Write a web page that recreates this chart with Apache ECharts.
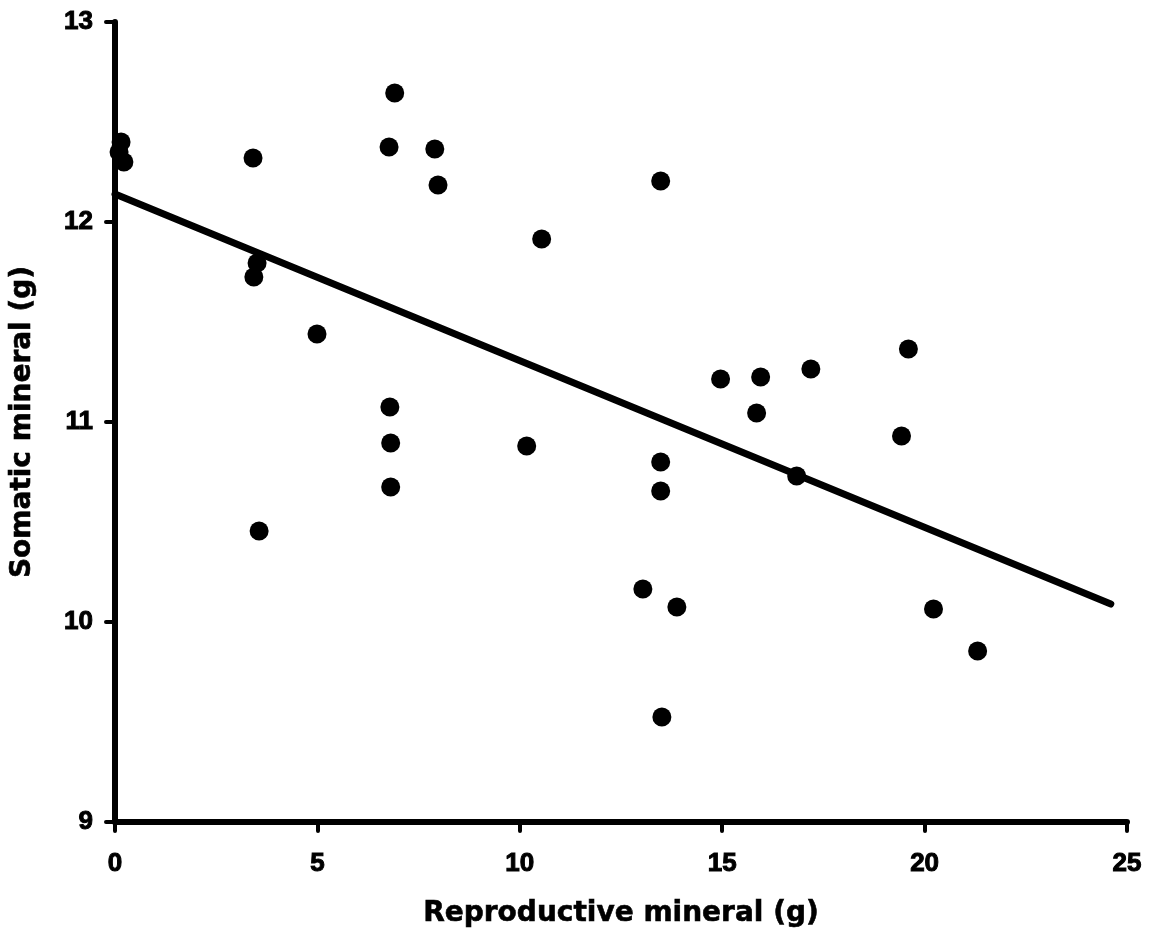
<!DOCTYPE html>
<html>
<head>
<meta charset="utf-8">
<title>Somatic vs reproductive mineral</title>
<script src="https://cdn.jsdelivr.net/npm/echarts@6/dist/echarts.min.js"></script>
<style>
  html, body { margin: 0; padding: 0; background: #fff; }
  #chart { width: 1155px; height: 947px; }
</style>
</head>
<body>
<div id="chart"></div>
<script>
// Reproductive mineral (g) per individual
const reproductive = [
  0.15, 0.22, 0.10,
  3.41, 3.51, 3.43, 3.56, 4.99,
  6.91, 6.77, 7.90, 7.98, 6.79, 6.81, 6.81,
  10.54, 10.17,
  13.48, 13.48, 13.48, 13.04, 13.88, 13.51,
  14.96, 15.95, 15.85, 16.84, 17.19,
  19.60, 19.43, 20.22, 21.31
];
// Somatic mineral (g) per individual
const somatic = [
  12.40, 12.30, 12.35,
  12.32, 11.795, 11.725, 10.455, 11.44,
  12.645, 12.375, 12.365, 12.185, 11.075, 10.895, 10.675,
  11.915, 10.88,
  12.205, 10.80, 10.655, 10.165, 10.075, 9.525,
  11.215, 11.225, 11.045, 10.73, 11.265,
  11.365, 10.93, 10.065, 9.855
];
// Least-squares fit line end points
const fitX = [0, 24.6];
const fitY = [12.14, 10.09];

// Axis ranges and tick spacing
const xRange = [0, 25, 5];
const yRange = [9, 13, 1];

const points = reproductive.map((x, i) => [x, somatic[i]]);
const fitLine = fitX.map((x, i) => [x, fitY[i]]);

const tickFont = '"Liberation Sans", Arial, sans-serif';
const titleFont = '"DejaVu Sans", "Liberation Sans", sans-serif';
const ink = '#000';

const tickLabel = (margin) => ({
  margin: margin,
  fontFamily: tickFont,
  fontWeight: 'bold',
  fontSize: 26,
  color: ink,
  textBorderColor: ink,
  textBorderWidth: 1
});
const titleStyle = {
  fontFamily: titleFont,
  fontWeight: 'bold',
  fontSize: 28,
  color: ink,
  textBorderColor: ink,
  textBorderWidth: 0.6
};

const chart = echarts.init(document.getElementById('chart'), null, { renderer: 'canvas' });
chart.setOption({
  backgroundColor: '#fff',
  animation: false,
  grid: { left: 115, right: 28, top: 22, bottom: 125, containLabel: false },
  xAxis: {
    type: 'value',
    min: xRange[0], max: xRange[1], interval: xRange[2],
    name: 'Reproductive mineral (g)',
    nameLocation: 'middle',
    nameGap: 78,
    nameTextStyle: titleStyle,
    axisLine: { lineStyle: { color: ink, width: 6, cap: 'round' } },
    axisTick: { show: true, inside: false, length: 9, lineStyle: { color: ink, width: 4, cap: 'round' } },
    axisLabel: tickLabel(29),
    splitLine: { show: false }
  },
  yAxis: {
    type: 'value',
    min: yRange[0], max: yRange[1], interval: yRange[2],
    name: 'Somatic mineral (g)',
    nameLocation: 'middle',
    nameGap: 78,
    nameTextStyle: titleStyle,
    axisLine: { show: true, lineStyle: { color: ink, width: 6, cap: 'round' } },
    axisTick: { show: true, inside: false, length: 9, lineStyle: { color: ink, width: 4, cap: 'round' } },
    axisLabel: tickLabel(22),
    splitLine: { show: false }
  },
  series: [
    {
      type: 'line',
      data: fitLine,
      showSymbol: false,
      symbol: 'none',
      lineStyle: { color: ink, width: 7, cap: 'round' },
      z: 3
    },
    {
      type: 'scatter',
      data: points,
      symbol: 'circle',
      symbolSize: 19,
      itemStyle: { color: ink, opacity: 1 },
      z: 4
    }
  ]
});
</script>
</body>
</html>
